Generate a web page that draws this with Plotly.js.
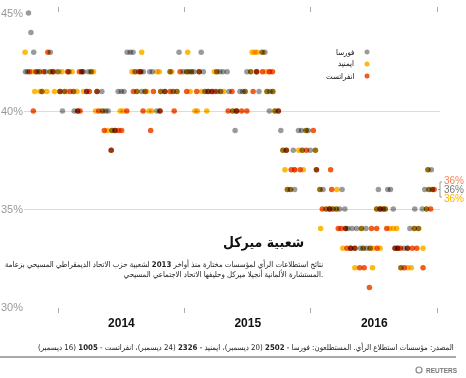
<!DOCTYPE html>
<html><head><meta charset="utf-8">
<script src="https://cdn.plot.ly/plotly-3.0.1.min.js"></script>
<style>
html,body{margin:0;padding:0;background:#fff;}
#chart{width:466px;height:378px;}
.scatterlayer .point{mix-blend-mode:multiply;}
</style></head><body><div id="chart"></div><script>
// Forsa (grey) polls: [date, CDU/CSU %]
const forsa = [
['2013-09-28',42],['2013-10-04',42],['2013-10-07',45],['2013-10-14',44],['2013-10-22',43],['2013-11-01',42],
['2013-11-08',42],['2013-11-15',41],['2013-11-25',42],['2013-12-09',43],['2013-12-08',42],['2013-12-17',42],
['2014-01-02',42],['2014-01-06',41],['2014-01-13',40],['2014-01-19',41],['2014-02-01',42],['2014-02-14',41],
['2014-02-16',40],['2014-02-26',40],['2014-03-10',42],['2014-03-15',42],['2014-03-24',41],['2014-03-29',42],
['2014-04-06',42],['2014-04-23',41],['2014-05-07',41],['2014-05-09',40],['2014-05-18',40],['2014-05-25',40],
['2014-06-03',38],['2014-06-05',39],['2014-06-14',39],['2014-06-23',41],['2014-07-02',41],['2014-07-10',41],
['2014-07-19',43],['2014-07-28',43],['2014-08-05',43],['2014-08-11',42],['2014-08-16',41],['2014-08-27',42],
['2014-08-30',41],['2014-09-04',42],['2014-09-09',41],['2014-09-22',42],['2014-09-30',42],['2014-10-13',40],
['2014-10-22',40],['2014-10-24',41],['2014-11-05',41],['2014-11-20',42],['2014-11-29',41],['2014-12-10',41],
['2014-12-16',43],['2014-12-28',42],['2015-01-07',42],['2015-01-14',42],['2015-01-21',42],['2015-01-28',42],
['2015-02-12',42],['2015-02-18',43],['2015-02-24',42],['2015-03-01',41],['2015-03-10',41],['2015-03-21',41],
['2015-04-04',42],['2015-04-06',41],['2015-04-13',42],['2015-04-15',41],['2015-04-22',42],['2015-05-04',42],
['2015-05-09',41],['2015-05-20',40],['2015-05-27',39],['2015-05-31',40],['2015-06-10',41],['2015-06-18',41],
['2015-06-25',41],['2015-06-30',42],['2015-07-11',42],['2015-07-28',42],['2015-08-04',41],['2015-08-12',43],
['2015-08-21',43],['2015-08-27',41],['2015-09-03',40],['2015-09-05',41],['2015-09-13',41],['2015-09-19',40],
['2015-09-29',40],['2015-10-06',39],['2015-10-12',38],['2015-10-22',38],['2015-10-25',36],['2015-11-03',36],
['2015-11-11',38],['2015-11-15',36],['2015-11-26',39],['2015-12-05',39],['2015-12-07',38],['2015-12-18',39],
['2015-12-24',39],['2015-12-30',38],['2016-01-14',38],['2016-01-17',37],['2016-01-27',36],['2016-02-05',36],
['2016-02-14',35],['2016-02-24',35],['2016-03-05',35],['2016-03-15',35],['2016-03-24',35],['2016-03-31',36],
['2016-04-08',35],['2016-04-10',34],['2016-04-17',34],['2016-04-25',33],['2016-04-29',34],['2016-05-07',33],
['2016-05-12',34],['2016-05-23',33],['2016-05-26',34],['2016-05-31',33],['2016-06-08',34],['2016-06-10',33],
['2016-06-20',33],['2016-07-09',35],['2016-07-14',36],['2016-07-19',35],['2016-07-28',35],['2016-08-03',35],
['2016-08-10',36],['2016-08-18',36],['2016-08-26',35],['2016-08-31',33],['2016-09-08',33],['2016-09-17',32],
['2016-09-26',33],['2016-10-06',33],['2016-10-13',34],['2016-10-26',34],['2016-10-27',35],['2016-11-07',34],
['2016-11-18',35],['2016-11-25',36],['2016-11-30',35],['2016-12-04',37],['2016-12-07',36],['2016-12-14',37],
['2016-12-17',36]
];
// Emnid (yellow)
const emnid = [
['2013-09-27',43],['2013-10-17',42],['2013-10-25',41],['2013-11-08',42],['2013-11-09',41],['2013-11-15',41],
['2013-11-29',41],['2013-12-10',42],['2013-12-21',41],['2013-12-28',42],['2014-01-12',42],['2014-01-19',41],
['2014-01-26',41],['2014-01-30',42],['2014-02-10',42],['2014-02-14',41],['2014-02-24',41],['2014-03-15',41],
['2014-04-06',42],['2014-04-13',42],['2014-04-19',40],['2014-05-09',40],['2014-05-23',39],['2014-06-05',39],
['2014-06-29',40],['2014-07-07',40],['2014-08-02',42],['2014-08-11',42],['2014-08-16',41],['2014-08-30',43],
['2014-09-09',41],['2014-09-14',41],['2014-09-20',40],['2014-09-28',40],['2014-10-13',42],['2014-10-20',42],
['2014-10-24',41],['2014-11-20',42],['2014-11-25',42],['2014-11-29',41],['2014-12-10',41],['2015-01-07',42],
['2015-01-10',43],['2015-01-17',41],['2015-01-21',42],['2015-01-31',40],['2015-02-07',40],['2015-02-19',41],
['2015-03-01',41],['2015-03-06',40],['2015-03-28',42],['2015-04-04',42],['2015-04-15',41],['2015-04-24',41],
['2015-05-20',40],['2015-05-31',40],['2015-06-25',41],['2015-07-11',42],['2015-07-15',43],['2015-07-23',43],
['2015-07-28',42],['2015-07-29',43],['2015-08-15',43],['2015-08-24',42],['2015-08-27',41],['2015-09-03',42],
['2015-09-13',41],['2015-09-19',40],['2015-10-12',38],['2015-10-18',37],['2015-10-25',36],['2015-11-03',36],
['2015-11-15',37],['2015-11-27',38],['2015-12-07',38],['2015-12-10',37],['2015-12-18',39],['2016-01-14',38],
['2016-01-27',36],['2016-01-29',34],['2016-02-14',35],['2016-02-24',35],['2016-03-05',35],['2016-03-15',35],
['2016-03-16',36],['2016-04-02',33],['2016-04-25',33],['2016-05-07',32],['2016-05-26',34],['2016-05-31',33],
['2016-06-20',33],['2016-06-27',32],['2016-06-28',33],['2016-07-09',35],['2016-07-19',33],['2016-07-20',35],
['2016-07-28',35],['2016-08-03',35],['2016-08-16',34],['2016-08-26',34],['2016-09-05',34],['2016-09-08',33],
['2016-09-17',32],['2016-10-07',32],['2016-10-17',32],['2016-10-26',34],['2016-11-07',34],['2016-11-20',33],
['2016-11-30',35],['2016-12-04',37],['2016-12-07',36],['2016-12-17',36]
];
// Infratest dimap (orange)
const infratest = [
['2013-10-10',42],['2013-10-21',40],['2013-10-28',42],['2013-11-20',42],['2013-12-02',43],['2013-12-17',42],
['2014-01-06',41],['2014-01-28',42],['2014-02-04',41],['2014-02-26',40],['2014-03-03',42],['2014-03-05',40],
['2014-03-10',42],['2014-03-24',41],['2014-04-01',41],['2014-04-23',41],['2014-04-28',40],['2014-05-14',39],
['2014-06-03',38],['2014-06-14',39],['2014-06-24',39],['2014-07-03',39],['2014-07-18',40],['2014-08-06',41],
['2014-08-21',42],['2014-08-27',42],['2014-09-03',40],['2014-09-25',39],['2014-10-03',41],['2014-10-22',40],
['2014-11-05',41],['2014-11-20',41],['2014-12-02',40],['2014-12-19',42],['2015-01-07',41],['2015-02-05',41],
['2015-02-12',42],['2015-03-10',41],['2015-03-21',41],['2015-03-30',41],['2015-05-07',40],['2015-05-18',41],
['2015-05-31',40],['2015-06-15',40],['2015-06-30',40],['2015-07-18',41],['2015-07-28',42],['2015-08-14',42],
['2015-09-03',42],['2015-09-12',42],['2015-09-29',40],['2015-10-22',38],['2015-11-05',37],['2015-11-15',37],
['2015-12-01',37],['2015-12-19',38],['2016-01-08',39],['2016-01-17',37],['2016-02-03',35],['2016-02-24',35],
['2016-02-27',37],['2016-03-01',36],['2016-03-20',34],['2016-03-28',34],['2016-04-10',34],['2016-04-14',33],
['2016-04-25',33],['2016-05-07',33],['2016-05-21',32],['2016-06-03',32],['2016-06-18',31],['2016-06-24',34],
['2016-07-09',34],['2016-07-10',33],['2016-07-19',35],['2016-08-07',34],['2016-08-31',33],['2016-09-08',33],
['2016-09-16',33],['2016-09-27',32],['2016-10-06',33],['2016-10-20',33],['2016-11-02',33],['2016-11-20',32],
['2016-12-12',35],['2016-12-22',36]
];
const seriesNames = ['فورسا','ايمنيد','انفراتست'];
const seriesColors = ['#9a9a9a','#fdba12','#f25c1c'];
const latestLabels = ['36%','36%','36%'];
const labelColors = ['#f5845a','#7a7a7a','#fdb400'];
const yTicks = [30,35,40,45];
const yTickText = ['30%','35%','40%','45%'];

const FONT = 'Liberation Sans, Arial, DejaVu Sans, sans-serif';
const AR = 'DejaVu Sans Condensed, DejaVu Sans, sans-serif';
const all = [forsa, emnid, infratest];
const traces = all.map((s,i)=>({
  type:'scatter', mode:'markers', name:seriesNames[i],
  x:s.map(d=>d[0]), y:s.map(d=>d[1]),
  marker:{size:5.5,color:seriesColors[i],line:{width:0}},
  cliponaxis:false, hoverinfo:'skip'
}));

const L=24, R=440, T=13, B=307;
const px=x=>(x-L)/(R-L), py=y=>(B-y)/(B-T);

const annotations = [
  {text:'<b>شعبية ميركل</b>', x:px(306), y:py(242), xanchor:'right', yanchor:'middle', font:{size:14,color:'#111',family:AR}},
  {text:'نتائج استطلاعات الرأي لمؤسسات مختارة منذ أواخر <b>2013</b> لشعبية حزب الاتحاد الديمقراطي المسيحي بزعامة<br>المستشارة الألمانية أنجيلا ميركل وحليفها الاتحاد الاجتماعي المسيحي.',
   x:px(325), y:py(268.5), xanchor:'right', yanchor:'middle', align:'right', font:{size:7.8,color:'#222',family:AR}},
  {text:'المصدر: مؤسسات استطلاع الرأي. المستطلعون: فورسا - <b>2502</b> (20 ديسمبر)، ايمنيد - <b>2326</b> (24 ديسمبر)، انفراتست - <b>1005</b> (16 ديسمبر)',
   x:px(456), y:py(347), xanchor:'right', yanchor:'middle', font:{size:7.8,color:'#222',family:AR}},
  {text:'<b>REUTERS</b>', x:px(460), y:py(370), xanchor:'right', yanchor:'middle', font:{size:6.5,color:'#777',family:FONT}}
];
seriesNames.forEach((n,i)=>annotations.push({text:n, x:px(356), y:py(52+12*i), xanchor:'right', yanchor:'middle', font:{size:7.8,color:'#111',family:AR}}));
latestLabels.forEach((t,i)=>annotations.push({text:t, x:px(442), y:py(180.5+9*i), xanchor:'left', yanchor:'middle', font:{size:10,color:labelColors[i],family:FONT}}));
annotations.forEach(a=>{a.xref='paper'; a.yref='paper'; a.showarrow=false;});

const shapes = [
  {type:'line', x0:px(0), x1:px(456), y0:py(357), y1:py(357), line:{color:'#555',width:1}},
  {type:'circle', x0:px(416), x1:px(422), y0:py(367), y1:py(373), line:{color:'#888',width:1.2}},
  // bracket
  {type:'line', x0:px(440), x1:px(440), y0:py(182), y1:py(197), line:{color:'#999',width:1}},
  {type:'line', x0:px(440), x1:px(442), y0:py(182), y1:py(182), line:{color:'#999',width:1}},
  {type:'line', x0:px(440), x1:px(442), y0:py(197), y1:py(197), line:{color:'#999',width:1}},
  {type:'line', x0:px(438), x1:px(440), y0:py(189.5), y1:py(189.5), line:{color:'#999',width:1}}
];
seriesColors.forEach((c,i)=>shapes.push({type:'circle', x0:px(364.5), x1:px(369.5), y0:py(52+12*i+2.5), y1:py(52+12*i-2.5), fillcolor:c, line:{width:0}}));
shapes.forEach(s=>{s.xref='paper'; s.yref='paper'; s.layer = s.layer||'above';});

const layout = {
  width:466, height:378, margin:{l:L,r:466-R,t:T,b:378-B},
  paper_bgcolor:'#fff', plot_bgcolor:'#fff', showlegend:false,
  font:{family:FONT,size:11,color:'#222'},
  xaxis:{type:'date', range:['2013-09-24','2017-01-08'], showgrid:false, zeroline:false, showline:false,
    tick0:'2014-01-01', dtick:'M12', ticklabelmode:'period', tickformat:'%Y',
    ticks:'outside', ticklen:5, tickcolor:'#aaa', tickwidth:1, mirror:'ticks',
    tickfont:{size:12,color:'#111',family:FONT, weight:'bold'}},
  yaxis:{range:[30,45], tickvals:yTicks, ticktext:yTickText, showgrid:true, gridcolor:'#dcdcdc', gridwidth:1,
    zeroline:false, showline:false, ticks:'', tickfont:{size:11,color:'#999',family:FONT}},
  annotations, shapes
};
Plotly.newPlot('chart', traces, layout, {staticPlot:true, displayModeBar:false});
</script></body></html>
